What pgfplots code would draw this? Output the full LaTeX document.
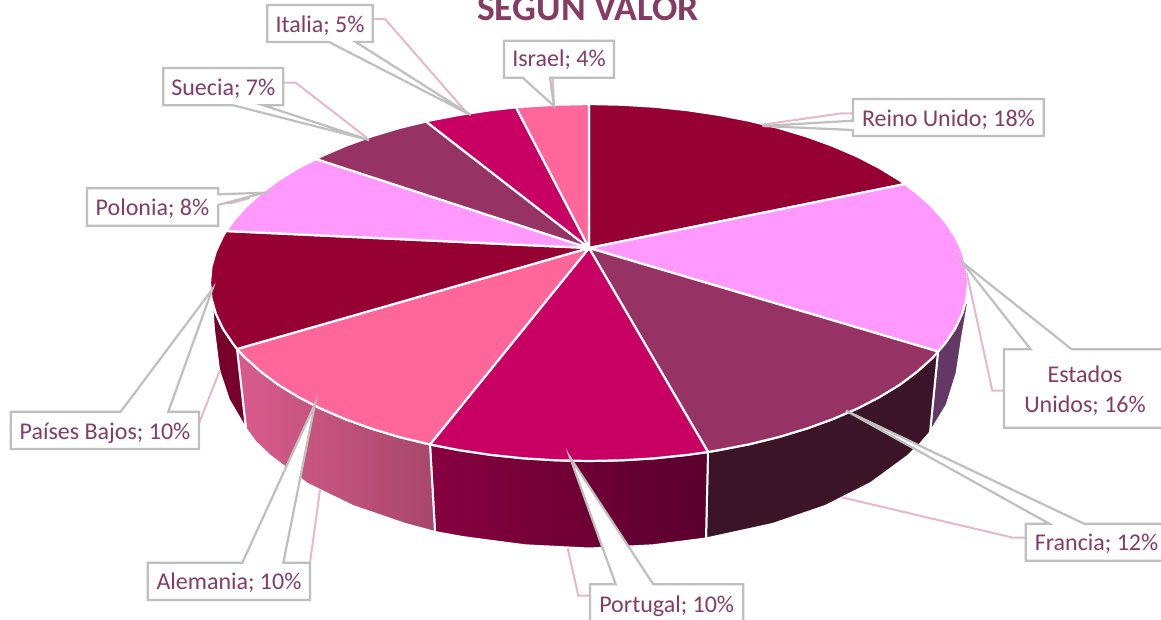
\documentclass[border=0pt]{standalone}
\usepackage{fontspec}
\setmainfont{Carlito}
\usepackage{pgfplots}
\pgfplotsset{compat=1.18}
\definecolor{vino}{HTML}{960032}
\definecolor{lila}{HTML}{FF99FF}
\definecolor{ciruela}{HTML}{963264}
\definecolor{fucsia}{HTML}{C80064}
\definecolor{rosa}{HTML}{FF6699}
\definecolor{EstW}{HTML}{643864}
\definecolor{FranW}{HTML}{3C1428}
\definecolor{PortA}{HTML}{87003F}
\definecolor{PortB}{HTML}{5A002E}
\definecolor{AlemA}{HTML}{D95C8C}
\definecolor{AlemB}{HTML}{A8476A}
\definecolor{PaisW}{HTML}{760029}
\definecolor{texto}{HTML}{843C63}
\definecolor{guia}{HTML}{E6B8CC}
\definecolor{caja}{HTML}{BFBFBF}
\tikzset{
  cara/.style={draw=white, line width=2.2pt, line join=round},
  pared/.style={draw=white, line width=2pt, line join=round},
  lider/.style={draw=guia, line width=2pt},
  globo/.style={draw=caja, fill=white, line width=2.2pt, line join=miter},
  etq/.style={anchor=base, text=texto, font=\fontsize{24}{27}\selectfont, inner sep=0pt},
}
\begin{document}
\begin{tikzpicture}
\useasboundingbox (0,0) rectangle (1161pt,619pt);
\clip (0,0) rectangle (1161pt,619pt);
\begin{axis}[
  scale only axis, width=1161pt, height=619pt,
  xmin=0, xmax=1161, ymin=0, ymax=619,
  y dir=reverse, hide axis, clip=false,
]
% paredes laterales
\addplot[pared, fill=EstW] coordinates {(938,351.5)(945.1,343.5)(955.1,328.7)(962.2,313.5)(966.6,298.1)(967.7,305)(961.7,340)(956.7,373)(946.7,405)(930,432.5)} --cycle;
\addplot[pared, fill=FranW] coordinates {(938,351.5)(932.5,357.9)(917.2,371.7)(899.5,384.9)(879.3,397.2)(857,408.7)(832.6,419.2)(806.4,428.7)(778.5,437.1)(749.2,444.3)(718.6,450.2)(708,452)(706,538.5)(773,523.9)(825.5,505.9)(870.9,483)(907.7,456)(920,444)(930,432.5)} --cycle;
\addplot[pared, left color=PortA, right color=PortB] coordinates {(708,452)(687.1,454.9)(654.8,458.3)(622,460.3)(589,461)(556,460.3)(523.2,458.3)(490.9,454.9)(459.4,450.2)(430,444.5)(435,532)(463.1,537.1)(525.1,545.3)(589,548.5)(652.9,545.3)(706,538.5)} --cycle;
\addplot[pared, left color=AlemA, right color=AlemB] coordinates {(430,444.5)(399.5,437.1)(371.6,428.7)(345.4,419.2)(321,408.7)(298.7,397.2)(278.5,384.9)(260.8,371.7)(245.5,357.9)(237,349)(246,429)(255.5,442)(270.3,456)(307.1,483.7)(352.5,505.9)(405,523.9)(435,532)} --cycle;
\addplot[pared, fill=PaisW] coordinates {(237,349)(232.9,343.5)(222.9,328.7)(215.8,313.5)(212,303)(214,330)(219,370)(229,400)(246,429)} --cycle;
% cara superior
\addplot[cara, fill=vino] coordinates {(589,248)(589,104)(622,104.7)(654.8,106.7)(687.1,110.1)(718.6,114.8)(749.2,120.7)(778.5,127.9)(806.4,136.3)(832.6,145.8)(857,156.3)(879.3,167.8)(899.5,180.1)(905,184)} --cycle;
\addplot[cara, fill=lila] coordinates {(589,248)(905,184)(917.2,193.3)(932.5,207.1)(945.1,221.5)(955.1,236.3)(962.2,251.5)(966.6,266.9)(968,282.5)(966.6,298.1)(962.2,313.5)(955.1,328.7)(945.1,343.5)(938,351.5)} --cycle;
\addplot[cara, fill=ciruela] coordinates {(589,248)(938,351.5)(932.5,357.9)(917.2,371.7)(899.5,384.9)(879.3,397.2)(857,408.7)(832.6,419.2)(806.4,428.7)(778.5,437.1)(749.2,444.3)(718.6,450.2)(708,452)} --cycle;
\addplot[cara, fill=fucsia] coordinates {(589,248)(708,452)(687.1,454.9)(654.8,458.3)(622,460.3)(589,461)(556,460.3)(523.2,458.3)(490.9,454.9)(459.4,450.2)(430,444.5)} --cycle;
\addplot[cara, fill=rosa] coordinates {(589,248)(430,444.5)(399.5,437.1)(371.6,428.7)(345.4,419.2)(321,408.7)(298.7,397.2)(278.5,384.9)(260.8,371.7)(245.5,357.9)(237,349)} --cycle;
\addplot[cara, fill=vino] coordinates {(589,248)(237,349)(232.9,343.5)(222.9,328.7)(215.8,313.5)(211.4,298.1)(210,282.5)(211.4,266.9)(215.8,251.5)(222.9,236.3)(226,231)} --cycle;
\addplot[cara, fill=lila] coordinates {(589,248)(226,231)(232.9,221.5)(245.5,207.1)(260.8,193.3)(278.5,180.1)(298.7,167.8)(316,159)} --cycle;
\addplot[cara, fill=ciruela] coordinates {(589,248)(316,159)(321,156.3)(345.4,145.8)(371.6,136.3)(399.5,127.9)(426,121.5)} --cycle;
\addplot[cara, fill=fucsia] coordinates {(589,248)(426,121.5)(428.8,120.7)(459.4,114.8)(490.9,110.1)(516,107.3)} --cycle;
\addplot[cara, fill=rosa] coordinates {(589,248)(516,107.3)(523.2,106.7)(556,104.7)(589,104)} --cycle;
% lineas guia
\addplot[lider] coordinates {(853,113.3)(841.7,113.3)(762.3,124.7)};
\addplot[lider] coordinates {(1004,390.7)(992.3,390.7)(966.7,273)};
\addplot[lider] coordinates {(1025.7,537.7)(1013,537.7)(841.7,497.3)};
\addplot[lider] coordinates {(590,595.7)(578.3,595.7)(567.7,548.3)};
\addplot[lider] coordinates {(310,562.7)(320,490)};
\addplot[lider] coordinates {(199,423.3)(220,370)};
\addplot[lider] coordinates {(218.3,203)(231.7,203)(250,198)};
\addplot[lider] coordinates {(283.3,82.7)(295.7,82.7)(366.7,137.7)};
\addplot[lider] coordinates {(372.7,19)(385,19)(466.7,112.7)};
\addplot[lider] coordinates {(552.7,77)(554,106)};
% globos
\addplot[globo] coordinates {(853,99)(1043.7,99)(1043.7,136)(853,136)(853,130)(762.3,126)(853,120.7)} --cycle;
\addplot[globo] coordinates {(1004,349.3)(1030.7,349.3)(962.3,262.3)(1071.7,349.3)(1166,349.3)(1166,427.7)(1004,427.7)} --cycle;
\addplot[globo] coordinates {(1025.7,523.7)(1049.3,523.7)(846,410.7)(1084,523.7)(1167,523.7)(1167,560.7)(1025.7,560.7)} --cycle;
\addplot[globo] coordinates {(590,584.3)(615.7,584.3)(570,457.3)(653.3,584.3)(743.3,584.3)(743.3,621.5)(590,621.5)} --cycle;
\addplot[globo] coordinates {(147.7,562.7)(242.3,562.7)(315,404)(283.3,562.7)(310,562.7)(310,600)(147.7,600)} --cycle;
\addplot[globo] coordinates {(10.7,411.7)(120.7,411.7)(212.3,289.3)(168.3,411.7)(199,411.7)(199,449)(10.7,449)} --cycle;
\addplot[globo] coordinates {(87,188.3)(218.3,188.3)(218.3,194.3)(264,192.7)(218.3,205)(218.3,225.7)(87,225.7)} --cycle;
\addplot[globo] coordinates {(163.3,68)(283.3,68)(283.3,105.3)(263.3,105.3)(369,140)(233.3,105.3)(163.3,105.3)} --cycle;
\addplot[globo] coordinates {(267.3,5)(372.7,5)(372.7,42)(355.7,42)(470.7,115)(329,42)(267.3,42)} --cycle;
\addplot[globo] coordinates {(504,40.7)(614,40.7)(614,77.7)(550,77.7)(554,106)(522.7,77.7)(504,77.7)} --cycle;
% textos
\node[etq] at (axis cs:948.5,126) {Reino Unido; 18\%};
\node[etq] at (axis cs:1085,382.7) {Estados};
\node[etq] at (axis cs:1085,412.3) {Unidos; 16\%};
\node[etq] at (axis cs:1096.5,550) {Francia; 12\%};
\node[etq] at (axis cs:666.7,612.3) {Portugal; 10\%};
\node[etq] at (axis cs:229,589.3) {Alemania; 10\%};
\node[etq] at (axis cs:105,439) {Países Bajos; 10\%};
\node[etq] at (axis cs:152.5,215) {Polonia; 8\%};
\node[etq] at (axis cs:223.3,95) {Suecia; 7\%};
\node[etq] at (axis cs:320,32.3) {Italia; 5\%};
\node[etq] at (axis cs:559,66.7) {Israel; 4\%};
\node[anchor=base, text=texto, inner sep=0pt, font=\fontsize{37.5}{40}\selectfont\bfseries] at (axis cs:588,20) {SEGÚN VALOR};
\end{axis}
\end{tikzpicture}
\end{document}
